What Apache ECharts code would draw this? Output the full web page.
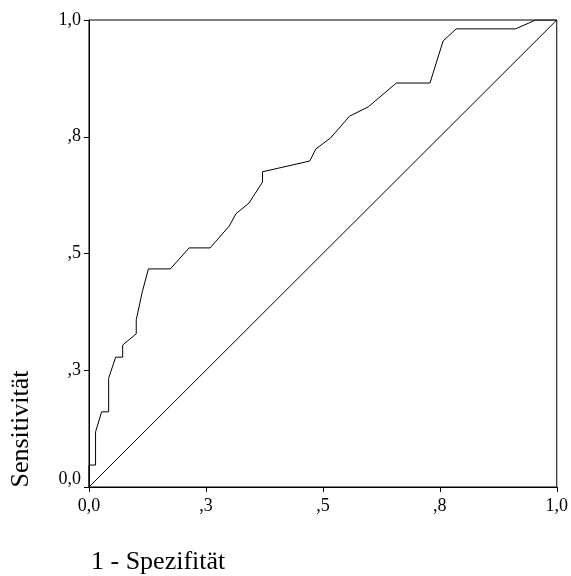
<!DOCTYPE html>
<html>
<head>
<meta charset="utf-8">
<script src="https://cdn.jsdelivr.net/npm/echarts@6/dist/echarts.min.js"></script>
<style>
html,body{margin:0;padding:0;background:#fff;}
#c{width:571px;height:576px;}
</style>
</head>
<body>
<div id="c"></div>
<script>
// 1 - Spezifität (false positive rate)
var fpr = [0, 0, 0.014, 0.014, 0.027, 0.042, 0.042, 0.057, 0.072, 0.072, 0.101, 0.101, 0.114, 0.127, 0.174, 0.214, 0.259, 0.300, 0.314, 0.342, 0.371, 0.371, 0.472, 0.485, 0.516, 0.557, 0.597, 0.657, 0.729, 0.757, 0.785, 0.912, 0.955, 1.0];
// Sensitivität (true positive rate)
var tpr = [0, 0.047, 0.047, 0.118, 0.161, 0.161, 0.233, 0.278, 0.278, 0.304, 0.328, 0.358, 0.418, 0.467, 0.467, 0.512, 0.512, 0.559, 0.585, 0.608, 0.653, 0.675, 0.698, 0.724, 0.747, 0.794, 0.814, 0.865, 0.865, 0.955, 0.981, 0.981, 1.0, 1.0];
// Reference (diagonal) line
var refX = [0, 1];
var refY = [0, 1];
// Tick labels (SPSS style, at 0, .25, .5, .75, 1)
var tickValues = [0, 0.25, 0.5, 0.75, 1];
var tickLabels = ['0,0', ',3', ',5', ',8', '1,0'];

var rocData = fpr.map(function (x, i) { return [x, tpr[i]]; });
var refData = refX.map(function (x, i) { return [x, refY[i]]; });

function fmt(v) {
  for (var i = 0; i < tickValues.length; i++) {
    if (Math.abs(v - tickValues[i]) < 1e-6) return tickLabels[i];
  }
  return '';
}
function fmtY(v) {
  var s = fmt(v);
  return Math.abs(v) < 1e-6 ? '{lo|' + s + '}' : s;
}

var FONT = '"Liberation Serif", "Times New Roman", serif';
var chart = echarts.init(document.getElementById('c'), null, {renderer: 'canvas'});
chart.setOption({
  animation: false,
  backgroundColor: '#fff',
  grid: {left: 89, top: 20, width: 470, height: 467, show: true, borderColor: '#000', borderWidth: 1, backgroundColor: 'transparent'},
  xAxis: {
    type: 'value', min: 0, max: 1, interval: 0.25,
    axisLine: {show: true, onZero: false, lineStyle: {color: '#000', width: 1}},
    axisTick: {show: true, length: 5, lineStyle: {color: '#000'}},
    splitLine: {show: false},
    axisLabel: {formatter: fmt, color: '#000', fontFamily: FONT, fontSize: 18, margin: 10, showMinLabel: true, showMaxLabel: true}
  },
  yAxis: {
    type: 'value', min: 0, max: 1, interval: 0.25,
    axisLine: {show: true, onZero: false, lineStyle: {color: '#000', width: 1}},
    axisTick: {show: true, length: 5, lineStyle: {color: '#000'}},
    splitLine: {show: false},
    axisLabel: {formatter: fmtY, color: '#000', fontFamily: FONT, fontSize: 18, margin: 8, showMinLabel: true, showMaxLabel: true,
      rich: {lo: {color: '#000', fontFamily: FONT, fontSize: 18, padding: [0, 0, 16, 0]}}}
  },
  series: [
    {type: 'line', data: rocData, showSymbol: false, symbol: 'none', lineStyle: {color: '#000', width: 1}, z: 3},
    {type: 'line', data: refData, showSymbol: false, symbol: 'none', lineStyle: {color: '#000', width: 1}, z: 2}
  ],
  graphic: [
    {type: 'text', left: 91, top: 549, style: {text: '1 - Spezifität', fill: '#000', font: '26px ' + FONT}},
    {type: 'text', x: 21, y: 429, rotation: Math.PI / 2, style: {text: 'Sensitivität', fill: '#000', font: '26px ' + FONT, textAlign: 'center', textVerticalAlign: 'middle'}}
  ]
});
</script>
</body>
</html>
